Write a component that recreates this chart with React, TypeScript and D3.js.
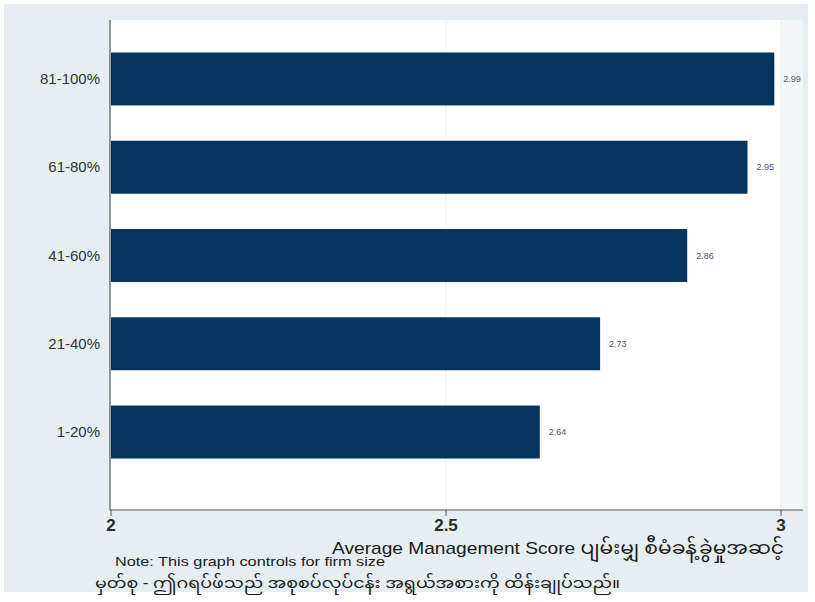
import React from "react";
import * as d3 from "d3";

const categories = ["81-100%", "61-80%", "41-60%", "21-40%", "1-20%"];
const values = [2.99, 2.95, 2.86, 2.73, 2.64];
const valueLabels = ["2.99", "2.95", "2.86", "2.73", "2.64"];
const xTicks = [2, 2.5, 3];
const xTickLabels = ["2", "2.5", "3"];
const axisTitleEn = "Average Management Score ";
const axisTitleMy = "ပျမ်းမျှ စီမံခန့်ခွဲမှုအဆင့်";
const noteEn = "Note: This graph controls for firm size";
const noteMy = "မှတ်စု - ဤဂရပ်ဖ်သည် အစုစပ်လုပ်ငန်း အရွယ်အစားကို ထိန်းချုပ်သည်။";

const W = 815;
const H = 602;
const plotLeft = 110;
const plotTop = 20;
const plotBottom = 510;

export default function App() {
  const x = d3.scaleLinear().domain([2, 3]).range([111, 781]);
  const y = d3
    .scaleBand<string>()
    .domain(categories)
    .range([plotTop, 491])
    .paddingInner(0.4)
    .paddingOuter(0.368);
  const font = "'Liberation Sans', Arial, Helvetica, sans-serif";
  const myFont = "'Noto Sans Myanmar', 'Noto Sans', 'DejaVu Sans', sans-serif";
  return (
    <svg
      width={W}
      height={H}
      style={{ position: "absolute", left: 0, top: 0, background: "#ffffff" }}
    >
      <rect x={4} y={4} width={804} height={588} fill="#e7eef1" />
      <rect x={plotLeft} y={plotTop} width={670} height={plotBottom - plotTop} fill="#ffffff" />
      <rect x={780} y={plotTop} width={23} height={plotBottom - plotTop} fill="#f3f6f7" />
      {xTicks.slice(1).map((t) => (
        <line key={"g" + t} x1={x(t)} x2={x(t)} y1={plotTop} y2={plotBottom} stroke="#eef2f4" strokeWidth={1} />
      ))}
      {categories.map((c, i) => (
        <g key={c}>
          <rect
            x={x(2)}
            y={y(c)!}
            width={x(values[i]) - x(2)}
            height={y.bandwidth()}
            fill="#07345f"
          />
          <text
            x={x(values[i]) + 9}
            y={y(c)! + y.bandwidth() / 2 + 3}
            fontFamily={font}
            fontSize={9}
            fill="#4a5568"
          >
            {valueLabels[i]}
          </text>
          <text
            x={100}
            y={y(c)! + y.bandwidth() / 2 + 5}
            textAnchor="end"
            fontFamily={font}
            fontSize={15}
            fill="#333333"
          >
            {c}
          </text>
        </g>
      ))}
      <line x1={plotLeft} x2={plotLeft} y1={plotTop} y2={plotBottom} stroke="#555555" strokeWidth={1.2} />
      <line x1={plotLeft} x2={803} y1={plotBottom} y2={plotBottom} stroke="#555555" strokeWidth={1.2} />
      {xTicks.map((t, i) => (
        <g key={"t" + t}>
          <line x1={x(t)} x2={x(t)} y1={plotBottom} y2={plotBottom + 6} stroke="#555555" strokeWidth={1} />
          <text
            x={x(t)}
            y={531}
            textAnchor="middle"
            fontFamily={font}
            fontSize={17}
            fontWeight="bold"
            fill="#2a2a2a"
          >
            {xTickLabels[i]}
          </text>
        </g>
      ))}
      <text x={332} y={554} fontSize={17} fill="#1a1a1a" textLength={452} lengthAdjust="spacingAndGlyphs">
        <tspan fontFamily={font}>{axisTitleEn}</tspan>
        <tspan fontFamily={myFont} fontSize={18}>{axisTitleMy}</tspan>
      </text>
      <text x={115} y={566} fontFamily={font} fontSize={13} fill="#1a1a1a" textLength={270} lengthAdjust="spacingAndGlyphs">
        {noteEn}
      </text>
      <text x={95} y={588} fontFamily={myFont} fontSize={15} fill="#1a1a1a" textLength={525} lengthAdjust="spacingAndGlyphs">
        {noteMy}
      </text>
    </svg>
  );
}
